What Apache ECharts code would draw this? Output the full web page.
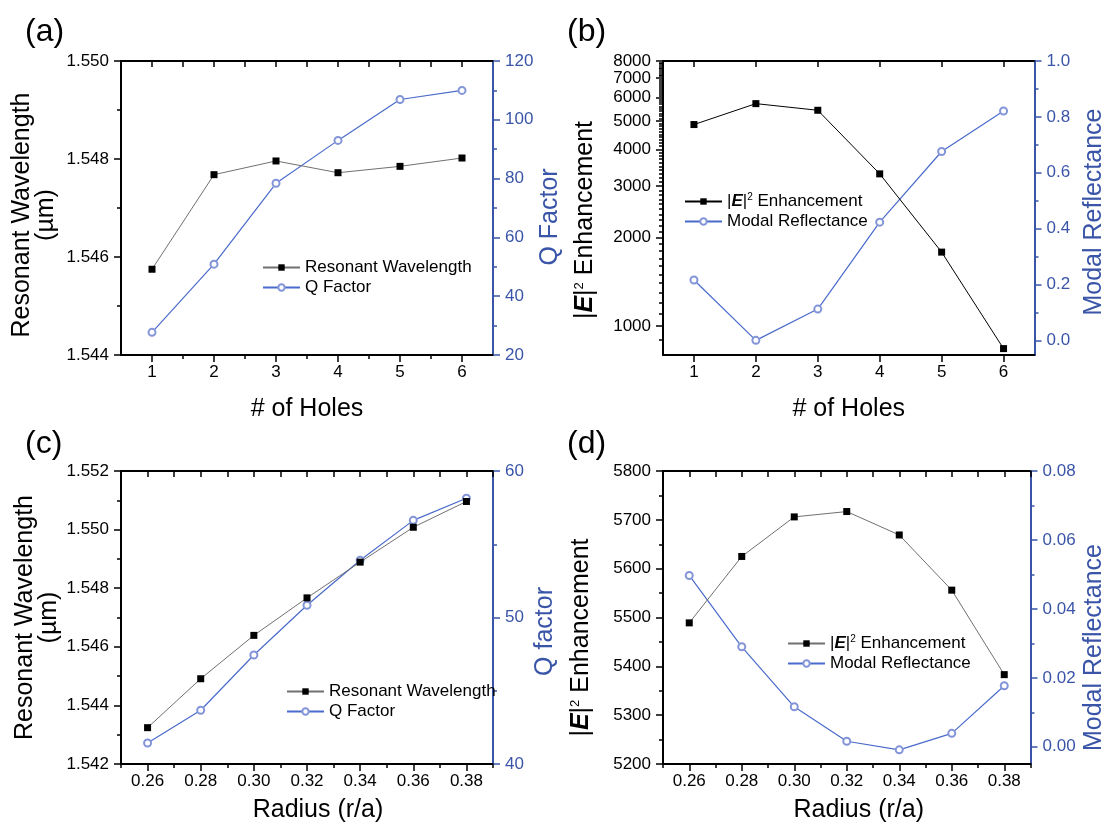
<!DOCTYPE html>
<html><head><meta charset="utf-8">
<script src="https://cdn.jsdelivr.net/npm/echarts@6/dist/echarts.min.js"></script>
<style>html,body{margin:0;padding:0;background:#fff}#c{width:1108px;height:824px}</style>
</head><body><div id="c"></div>
<script>
// ---------- data ----------
const holes = [1, 2, 3, 4, 5, 6];
const wavelengthA = [1.54575, 1.54768, 1.54796, 1.54772, 1.54785, 1.54802];
const qFactorA = [27.7, 50.9, 78.4, 93.0, 106.9, 110.0];
const enhancementB = [4858, 5725, 5434, 3299, 1785, 837];
const reflectanceB = [0.216, 0.000, 0.112, 0.423, 0.676, 0.821];
const radius = [0.26, 0.28, 0.30, 0.32, 0.34, 0.36, 0.38];
const wavelengthC = [1.54324, 1.54491, 1.54639, 1.54767, 1.54889, 1.55008, 1.55096];
const qFactorC = [41.43, 43.67, 47.44, 50.84, 53.91, 56.63, 58.14];
const enhancementD = [5489, 5625, 5706, 5717, 5669, 5556, 5383];
const reflectanceD = [0.0497, 0.0290, 0.0116, 0.0016, -0.0009, 0.0039, 0.0177];

// tick labels
const holeTicks = [1, 2, 3, 4, 5, 6];
const holeMinor = [1.5, 2.5, 3.5, 4.5, 5.5];
const radiusTicks = [0.26, 0.28, 0.30, 0.32, 0.34, 0.36, 0.38];
const radiusMinor = [0.25, 0.27, 0.29, 0.31, 0.33, 0.35, 0.37, 0.39];
const wlTicksA = [1.544, 1.546, 1.548, 1.550];
const wlMinorA = [1.545, 1.547, 1.549];
const qTicksA = [20, 40, 60, 80, 100, 120];
const qMinorA = [30, 50, 70, 90, 110];
const enhTicksB = [1000, 2000, 3000, 4000, 5000, 6000, 7000, 8000];
const reflTicksB = [0.0, 0.2, 0.4, 0.6, 0.8, 1.0];
const reflMinorB = [0.1, 0.3, 0.5, 0.7, 0.9];
const wlTicksC = [1.542, 1.544, 1.546, 1.548, 1.550, 1.552];
const wlMinorC = [1.543, 1.545, 1.547, 1.549, 1.551];
const qTicksC = [40, 50, 60];
const qMinorC = [45, 55];
const enhTicksD = [5200, 5300, 5400, 5500, 5600, 5700, 5800];
const enhMinorD = [5250, 5350, 5450, 5550, 5650, 5750];
const reflTicksD = [0.00, 0.02, 0.04, 0.06, 0.08];
const reflMinorD = [0.01, 0.03, 0.05, 0.07];

// log minor ticks for (b)
const enhMinorB = [];
for (let v = 900; v < 8000; v += 100) if (v % 1000 !== 0) enhMinorB.push(v);

// ---------- style ----------
const FONT = 'Arial, "Liberation Sans", sans-serif';
const BLUE = '#3a55a8';
const BLUE_LINE = '#4a6bcb';
const BLUE_MK = '#8395d8';
const GRAY_LINE = '#707070';
const TICK = 17, TITLE = 25;

const grids = [
  {left: 121, top: 61, width: 372, height: 294},
  {left: 663, top: 61, width: 372, height: 294},
  {left: 121, top: 471, width: 372, height: 294},
  {left: 663, top: 471, width: 372, height: 294}
];

const xAxes = [], yAxes = [];
function addX(o) { xAxes.push(o); return xAxes.length - 1; }
function addY(o) { yAxes.push(o); return yAxes.length - 1; }

function xSet(g, min, max, ticks, minor, fmt, name, gap, pad) {
  const main = addX({
    type: 'value', gridIndex: g, min, max, position: 'bottom',
    name, nameLocation: 'middle', nameGap: gap,
    nameTextStyle: {fontFamily: FONT, fontSize: TITLE, color: '#000', padding: pad || 0},
    axisLine: {show: true, onZero: false, lineStyle: {color: '#000', width: 2}},
    axisTick: {show: true, length: 7, customValues: ticks, lineStyle: {color: '#000', width: 1.5}},
    axisLabel: {show: true, customValues: ticks, formatter: fmt, margin: 9, fontFamily: FONT, fontSize: TICK, color: '#000'},
    splitLine: {show: false}
  });
  if (minor) addX({
    type: 'value', gridIndex: g, min, max, position: 'bottom',
    axisLine: {show: false, onZero: false},
    axisTick: {show: true, length: 4, customValues: minor, lineStyle: {color: '#000', width: 1.5}},
    axisLabel: {show: false}, splitLine: {show: false}
  });
  const topTicks = minor ? ticks.concat(minor) : ticks;
  addX({
    type: 'value', gridIndex: g, min, max, position: 'top',
    axisLine: {show: true, onZero: false, lineStyle: {color: '#000', width: 2}},
    axisTick: {show: true, inside: true, length: 6, customValues: topTicks, lineStyle: {color: '#000', width: 1.5}},
    axisLabel: {show: false}, splitLine: {show: false}
  });
  return main;
}

function ySet(g, side, min, max, ticks, minor, fmt, name, gap, color, type, shift, extraName) {
  const base = {
    type: type || 'value', gridIndex: g, min, max, position: side
  };
  const main = addY(Object.assign({}, base, {
    name, nameLocation: 'middle', nameGap: gap, nameRotate: 90,
    nameTextStyle: Object.assign({fontFamily: FONT, fontSize: TITLE, color, lineHeight: 24,
      padding: [0, 2 * (shift || 0), 0, 0]}, extraName || {}),
    axisLine: {show: true, onZero: false, lineStyle: {color, width: 2}},
    axisTick: {show: true, length: 7, customValues: ticks, lineStyle: {color, width: 1.5}},
    axisLabel: {show: true, customValues: ticks, formatter: fmt, margin: 12, fontFamily: FONT, fontSize: TICK, color},
    splitLine: {show: false}
  }));
  if (minor) addY(Object.assign({}, base, {
    axisLine: {show: false, onZero: false},
    axisTick: {show: true, length: 4, customValues: minor, lineStyle: {color, width: 1.5}},
    axisLabel: {show: false}, splitLine: {show: false}
  }));
  return main;
}

const eRich = {
  e: {fontFamily: FONT, fontSize: TITLE, fontWeight: 'bold', fontStyle: 'italic', color: '#000'},
  s: {fontFamily: FONT, fontSize: 13, color: '#000', verticalAlign: 'top', padding: [0, 0, 12, 0]}
};
const eRichLeg = {
  e: {fontFamily: FONT, fontSize: 17, fontWeight: 'bold', fontStyle: 'italic', color: '#000'},
  s: {fontFamily: FONT, fontSize: 10, color: '#000', padding: [0, 0, 9, 0]}
};

// ----- panel (a)
const xa = xSet(0, 0.5, 6.5, holeTicks, holeMinor, v => String(v), '# of Holes', 42);
const yaL = ySet(0, 'left', 1.544, 1.550, wlTicksA, wlMinorA, v => v.toFixed(3), 'Resonant Wavelength\n(µm)', 63, '#000', null, 7);
const yaR = ySet(0, 'right', 20, 120, qTicksA, qMinorA, v => String(v), 'Q Factor', 44, BLUE, null, 9);
// ----- panel (b)
const xb = xSet(1, 0.5, 6.5, holeTicks, null, v => String(v), '# of Holes', 42);
const ybL = ySet(1, 'left', 796, 8000, enhTicksB, enhMinorB, v => String(v), '|{e|E}|{s|2} Enhancement', 66, '#000', 'log', 12, {rich: eRich});
const ybR = ySet(1, 'right', -0.0524, 1.0, reflTicksB, reflMinorB, v => v.toFixed(1), 'Modal Reflectance', 48, BLUE, null, 4);
// ----- panel (c)
const xc = xSet(2, 0.25, 0.39, radiusTicks, radiusMinor, v => v.toFixed(2), 'Radius (r/a)', 34, [0, 0, 0, 22]);
const ycL = ySet(2, 'left', 1.542, 1.552, wlTicksC, wlMinorC, v => v.toFixed(3), 'Resonant Wavelength\n(µm)', 60, '#000');
const ycR = ySet(2, 'right', 40, 60, qTicksC, qMinorC, v => String(v), 'Q factor', 40, BLUE, null, 14);
// ----- panel (d)
const xd = xSet(3, 0.25, 0.39, radiusTicks, radiusMinor, v => v.toFixed(2), 'Radius (r/a)', 34, [0, 0, 0, 24]);
const ydL = ySet(3, 'left', 5200, 5800, enhTicksD, enhMinorD, v => String(v), '|{e|E}|{s|2} Enhancement', 70, '#000', null, 20, {rich: eRich});
const ydR = ySet(3, 'right', -0.005, 0.08, reflTicksD, reflMinorD, v => v.toFixed(2), 'Modal Reflectance', 52, BLUE, null, 30);

function pairs(xs, ys) { return xs.map((x, i) => [x, ys[i]]); }
function blackSeries(name, xi, yi, xs, ys, lineColor) {
  return {type: 'line', name, xAxisIndex: xi, yAxisIndex: yi, data: pairs(xs, ys),
    symbol: 'rect', symbolSize: 7, showSymbol: true,
    itemStyle: {color: '#000'}, lineStyle: {color: lineColor, width: 1}, z: 3, animation: false};
}
function blueSeries(name, xi, yi, xs, ys) {
  return {type: 'line', name, xAxisIndex: xi, yAxisIndex: yi, data: pairs(xs, ys),
    symbol: 'emptyCircle', symbolSize: 7, showSymbol: true,
    itemStyle: {color: BLUE_MK, borderColor: BLUE_MK, borderWidth: 1},
    lineStyle: {color: BLUE_LINE, width: 1.2}, z: 2, animation: false};
}

const series = [
  blackSeries('Resonant Wavelength', xa, yaL, holes, wavelengthA, GRAY_LINE),
  blueSeries('Q Factor', xa, yaR, holes, qFactorA),
  blackSeries('EnhB', xb, ybL, holes, enhancementB, '#000'),
  blueSeries('Modal Reflectance', xb, ybR, holes, reflectanceB),
  blackSeries('Resonant Wavelength ', xc, ycL, radius, wavelengthC, GRAY_LINE),
  blueSeries('Q Factor ', xc, ycR, radius, qFactorC),
  blackSeries('EnhD', xd, ydL, radius, enhancementD, GRAY_LINE),
  blueSeries('Modal Reflectance ', xd, ydR, radius, reflectanceD)
];

function legend(left, top, names) {
  return {
    orient: 'vertical', left, top, data: names, itemWidth: 37, itemHeight: 8, itemGap: 3,
    selectedMode: false,
    formatter: n => (n.indexOf('Enh') === 0 ? '|{e|E}|{s|2} Enhancement' : n.trim()),
    textStyle: {fontFamily: FONT, fontSize: 17, color: '#000', rich: eRichLeg, padding: [0, 0, 0, 0]}
  };
}

const titleStyle = {fontFamily: FONT, fontSize: 32, fontWeight: 'normal', color: '#000'};
const option = {
  animation: false,
  backgroundColor: '#fff',
  title: [
    {text: '(a)', left: 20, top: 11, textStyle: titleStyle},
    {text: '(b)', left: 562, top: 11, textStyle: titleStyle},
    {text: '(c)', left: 20, top: 423, textStyle: titleStyle},
    {text: '(d)', left: 562, top: 423, textStyle: titleStyle}
  ],
  grid: grids,
  xAxis: xAxes,
  yAxis: yAxes,
  legend: [
    legend(257, 254, ['Resonant Wavelength', 'Q Factor']),
    legend(679, 187, ['EnhB', 'Modal Reflectance']),
    legend(281, 678, ['Resonant Wavelength ', 'Q Factor ']),
    legend(782, 629, ['EnhD', 'Modal Reflectance '])
  ],
  series
};
const chart = echarts.init(document.getElementById('c'), null, {renderer: 'canvas'});
chart.setOption(option);
</script></body></html>
